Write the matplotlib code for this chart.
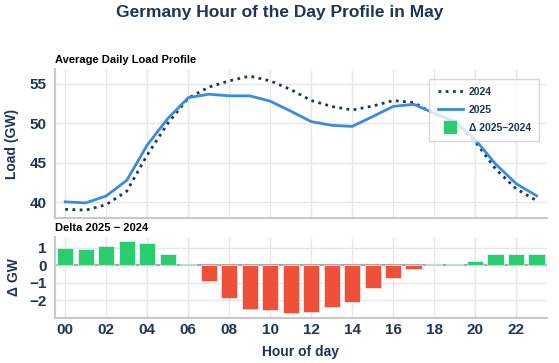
import matplotlib.pyplot as plt
from matplotlib.lines import Line2D
import numpy as np

hours = list(range(24))
load_2024 = [39.1, 39.0, 39.7, 41.4, 46.0, 50.0, 53.2, 54.6, 55.4, 56.0, 55.4, 54.3,
             52.9, 52.15, 51.7, 52.2, 52.9, 52.65, 51.2, 50.25, 47.7, 44.2, 41.7, 40.2]
load_2025 = [40.05, 39.92, 40.8, 42.78, 47.26, 50.62, 53.26, 53.7, 53.5, 53.5, 52.82, 51.56,
             50.23, 49.76, 49.62, 50.87, 52.16, 52.42, 51.29, 50.29, 47.95, 44.83, 42.36, 40.81]
tick_hours = list(range(0, 24, 2))
tick_labels = [f"{h:02d}" for h in tick_hours]

NAVY = '#1c3657'
BLUE = '#3a8be0'
GREEN = '#2ecc71'
RED = '#f05039'
SPINE = '#c8c8c8'
GRID = '#e6e6e6'

plt.rcParams['font.family'] = ['Liberation Sans', 'DejaVu Sans']
plt.rcParams['font.weight'] = 'bold'

delta = np.array(load_2025) - np.array(load_2024)

fig = plt.figure(figsize=(5.59, 3.63), dpi=100)
ax1 = fig.add_axes([0.0984, 0.3994, 0.880, 0.4105])
ax2 = fig.add_axes([0.0984, 0.1248, 0.880, 0.2222], sharex=ax1)

fig.text(0.5, 0.965, "Germany Hour of the Day Profile in May", ha='center', va='center',
         fontsize=12.5, fontweight='bold', color=NAVY)

ax1.plot(hours, load_2024, color=NAVY, linestyle=(0, (1, 1.6)), linewidth=2)
ax1.plot(hours, load_2025, color=BLUE, linewidth=2)
ax1.set_ylim(38.0, 56.9)
ax1.set_yticks([40, 45, 50, 55])
ax1.set_ylabel("Load (GW)", fontsize=10, fontweight='bold', color=NAVY, labelpad=8)
ax1.set_title("Average Daily Load Profile", loc='left', fontsize=8, fontweight='bold',
              color='black', pad=4)
ax1.tick_params(axis='x', labelbottom=False)

colors = [GREEN if d >= 0 else RED for d in delta]
ax2.bar(hours, delta, width=0.8, color=colors, edgecolor='#ffffff', linewidth=0.4, zorder=3)
ax2.axhline(0, color='#aaaaaa', linewidth=1.5, zorder=2)
ax2.set_ylim(-3.0, 1.6)
ax2.set_yticks([-2, -1, 0, 1])
ax2.set_yticklabels(["\u22122", "\u22121", "0", "1"])
ax2.set_ylabel("\u0394 GW", fontsize=10, fontweight='bold', color=NAVY, labelpad=6)
ax2.set_title("Delta 2025 \u2212 2024", loc='left', fontsize=8, fontweight='bold',
              color='black', pad=4)
ax2.set_xticks(tick_hours)
ax2.set_xticklabels(tick_labels)
ax2.set_xlim(-0.5, 23.5)

fig.text(0.5384, 0.030, "Hour of day", ha='center', va='center',
         fontsize=10, fontweight='bold', color=NAVY)

for ax in (ax1, ax2):
    ax.grid(True, color=GRID, linewidth=1)
    ax.set_axisbelow(True)
    for s in ('top', 'right'):
        ax.spines[s].set_visible(False)
    for s in ('left', 'bottom'):
        ax.spines[s].set_color(SPINE)
        ax.spines[s].set_linewidth(1.5)
    ax.tick_params(length=0, labelsize=11, labelcolor=NAVY, pad=6)
    for lab in ax.get_xticklabels() + ax.get_yticklabels():
        lab.set_fontweight('bold')
ax2.tick_params(axis='x', pad=4)

handles = [
    Line2D([], [], color=NAVY, linestyle=(0, (1, 1.6)), linewidth=2, label='2024'),
    Line2D([], [], color=BLUE, linewidth=2, label='2025'),
    Line2D([], [], color=GREEN, linestyle='none', marker='s', markersize=8, label='\u0394 2025\u20132024'),
]
leg = ax1.legend(handles=handles, loc='upper right', bbox_to_anchor=(0.995, 0.97), fontsize=7.5,
                 frameon=True, fancybox=False, edgecolor='#cccccc', labelcolor=NAVY,
                 handlelength=2.4, borderpad=0.8, labelspacing=0.75, handletextpad=0.6)
for t in leg.get_texts():
    t.set_fontweight('bold')

fig.savefig("out.png", dpi=100)
